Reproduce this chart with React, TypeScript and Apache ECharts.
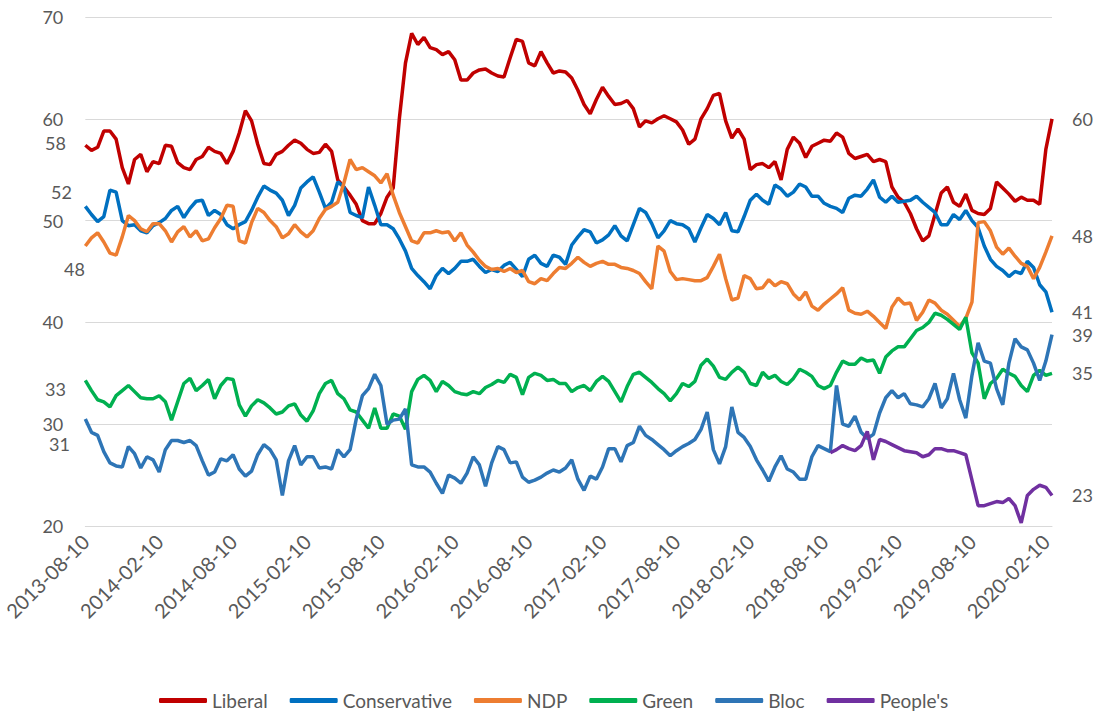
import React, { useEffect, useRef } from "react";
import * as echarts from "echarts";

// ---------- DATA ----------
const startYear = 2013;
const startMonth = 8; // August
const pointCount = 158; // semi-monthly points (10th and 25th)

function buildDates(): string[] {
  const out: string[] = [];
  for (let i = 0; i < pointCount; i++) {
    const m0 = startMonth - 1 + Math.floor(i / 2);
    const y = startYear + Math.floor(m0 / 12);
    const m = (m0 % 12) + 1;
    const d = i % 2 === 0 ? 10 : 25;
    out.push(`${y}-${String(m).padStart(2, "0")}-${d}`);
  }
  return out;
}
const categories = buildDates();

const seriesNames = ["Liberal", "Conservative", "NDP", "Green", "Bloc", "People's"];
const seriesColors = ["#C00000", "#0070C0", "#ED7D31", "#00B050", "#2E75B6", "#7030A0"];

const liberal = [
  57.4, 56.9, 57.2, 58.8, 58.8, 58.0, 55.2, 53.6, 56.0, 56.5,
  54.8, 55.8, 55.6, 57.4, 57.3, 55.7, 55.2, 55.0, 56.0, 56.3,
  57.2, 56.8, 56.6, 55.6, 56.8, 58.6, 60.8, 59.8, 57.5, 55.6,
  55.5, 56.5, 56.8, 57.4, 57.9, 57.6, 57.0, 56.6, 56.7, 57.5,
  56.8, 54.0, 53.3, 52.5, 51.6, 50.0, 49.7, 49.7, 50.7, 52.3,
  53.2, 60.0, 65.5, 68.4, 67.3, 68.0, 67.0, 66.8, 66.3, 66.6,
  65.8, 63.8, 63.8, 64.5, 64.8, 64.9, 64.5, 64.2, 64.1, 66.0,
  67.8, 67.6, 65.5, 65.2, 66.6, 65.5, 64.5, 64.7, 64.6, 64.0,
  62.8, 61.4, 60.5, 61.9, 63.1, 62.2, 61.4, 61.5, 61.8, 61.0,
  59.2, 59.8, 59.6, 60.0, 60.3, 60.0, 59.7, 58.9, 57.5, 58.0,
  60.0, 61.0, 62.3, 62.5, 59.8, 58.1, 59.0, 58.0, 55.0, 55.5,
  55.6, 55.2, 55.8, 54.0, 57.0, 58.2, 57.6, 56.2, 57.3, 57.6,
  57.9, 57.8, 58.6, 58.2, 56.6, 56.1, 56.3, 56.5, 55.8, 56.0,
  55.8, 53.3, 52.3, 51.8, 50.7, 49.2, 48.0, 48.5, 50.6, 52.7,
  53.3, 51.8, 51.4, 52.6, 51.0, 50.7, 50.6, 51.2, 53.8, 53.2,
  52.6, 51.9, 52.3, 52.0, 52.0, 51.6, 57.0, 60.0,
];

const conservative = [
  51.4, 50.6, 49.9, 50.4, 53.0, 52.8, 50.0, 49.5, 49.6, 49.0,
  48.8, 49.5, 49.8, 50.2, 51.0, 51.4, 50.3, 51.2, 51.9, 52.0,
  50.5, 51.0, 50.6, 49.6, 49.2, 49.6, 49.9, 51.0, 52.3, 53.4,
  53.0, 52.7, 52.0, 50.5, 51.5, 53.2, 53.8, 54.3, 52.8, 51.2,
  51.8, 53.8, 53.3, 50.8, 50.5, 50.3, 53.3, 51.5, 49.6, 49.6,
  49.2, 48.2, 47.0, 45.3, 44.6, 44.0, 43.3, 44.6, 45.3, 44.8,
  45.3, 46.0, 46.0, 46.2, 45.5, 44.9, 45.2, 45.0, 45.6, 45.9,
  45.2, 44.5, 46.2, 46.6, 45.8, 45.5, 46.6, 46.4, 45.7, 47.6,
  48.4, 49.1, 48.9, 47.8, 48.1, 48.6, 49.5, 48.5, 48.0, 49.6,
  51.2, 50.8, 49.7, 48.3, 49.0, 50.0, 49.7, 49.6, 49.2, 47.9,
  49.3, 50.6, 50.2, 49.6, 50.8, 49.0, 48.9, 50.4, 52.0, 52.6,
  52.0, 51.6, 53.5, 53.1, 52.4, 52.8, 53.6, 53.3, 52.4, 52.4,
  51.7, 51.4, 51.2, 50.8, 52.2, 52.5, 52.4, 53.1, 54.0, 52.3,
  51.8, 52.4, 51.8, 51.9, 52.0, 52.4, 51.8, 51.3, 50.8, 49.6,
  49.6, 50.6, 50.1, 51.0, 50.0, 49.3, 47.5, 46.2, 45.5, 45.1,
  44.5, 45.0, 44.8, 46.0, 45.4, 43.7, 43.0, 41.0,
];

const ndp = [
  47.5, 48.3, 48.8, 47.9, 46.8, 46.6, 48.4, 50.5, 50.0, 49.2,
  48.9, 49.7, 49.7, 49.0, 47.9, 48.9, 49.4, 48.4, 49.0, 48.0,
  48.2, 49.3, 50.2, 51.5, 51.4, 48.0, 47.8, 49.8, 51.2, 50.8,
  50.0, 49.4, 48.3, 48.7, 49.6, 48.9, 48.4, 49.0, 50.2, 51.1,
  51.4, 51.8, 53.7, 56.0, 55.0, 55.2, 54.8, 54.4, 53.7, 54.6,
  52.5, 50.8, 49.4, 48.0, 47.8, 48.8, 48.8, 49.0, 48.8, 48.9,
  48.0, 48.8, 47.6, 46.9, 46.1, 45.5, 45.2, 45.3, 45.0, 45.3,
  44.9, 45.1, 44.0, 43.8, 44.3, 44.1, 44.8, 45.4, 45.3, 45.8,
  46.4, 45.9, 45.5, 45.8, 46.0, 45.7, 45.7, 45.4, 45.3, 45.1,
  44.8, 44.0, 43.3, 47.5, 47.0, 45.0, 44.2, 44.3, 44.2, 44.1,
  44.1, 44.4, 45.5, 46.7, 44.3, 42.2, 42.4, 44.6, 44.3, 43.3,
  43.4, 44.2, 43.6, 44.0, 43.8, 42.8, 42.2, 43.0, 41.6, 41.2,
  41.8, 42.3, 42.8, 43.4, 41.2, 40.9, 40.8, 41.1, 40.6, 40.0,
  39.4, 41.5, 42.4, 41.8, 41.9, 40.2, 41.0, 42.2, 41.9, 41.2,
  40.8, 40.2, 39.6, 40.4, 42.0, 49.8, 49.9, 49.0, 47.4, 46.7,
  47.3, 46.5, 45.8, 45.5, 44.3, 45.4, 46.9, 48.5,
];

const green = [
  34.3, 33.3, 32.4, 32.2, 31.7, 32.8, 33.3, 33.8, 33.2, 32.6,
  32.5, 32.5, 32.8, 32.2, 30.4, 32.2, 34.0, 34.5, 33.3, 33.8,
  34.4, 32.5, 33.8, 34.5, 34.4, 31.9, 30.8, 31.8, 32.4, 32.1,
  31.6, 31.0, 31.2, 31.8, 32.0, 30.9, 30.3, 31.3, 33.0, 34.0,
  34.3, 33.0, 32.5, 31.4, 31.2, 30.4, 29.6, 31.6, 29.6, 29.6,
  31.0, 30.8, 29.5, 33.2, 34.4, 34.8, 34.3, 33.2, 34.2, 33.8,
  33.2, 33.0, 32.9, 33.2, 33.0, 33.6, 33.9, 34.3, 34.1, 34.9,
  34.6, 32.9, 34.6, 35.0, 34.8, 34.3, 34.4, 34.0, 34.0, 33.2,
  33.6, 33.8, 33.3, 34.2, 34.7, 34.2, 33.2, 32.2, 33.7, 34.9,
  35.1, 34.6, 34.1, 33.5, 33.0, 32.3, 33.0, 34.0, 33.7, 34.2,
  35.8, 36.4, 35.7, 34.6, 34.4, 35.1, 35.6, 35.1, 34.0, 33.8,
  35.1, 34.5, 34.8, 34.2, 33.9, 34.5, 35.4, 35.1, 34.7, 33.8,
  33.5, 33.8, 35.1, 36.2, 35.9, 35.9, 36.5, 36.2, 36.3, 35.0,
  36.6, 37.2, 37.6, 37.6, 38.4, 39.2, 39.5, 40.0, 40.9, 40.7,
  40.3, 39.8, 39.3, 40.5, 37.0, 36.0, 32.5, 34.0, 34.5, 35.4,
  35.0, 34.7, 33.8, 33.2, 34.8, 35.3, 34.8, 35.0,
];

const bloc = [
  30.5, 29.2, 28.9, 27.3, 26.2, 25.9, 25.8, 27.8, 27.1, 25.7,
  26.8, 26.5, 25.3, 27.5, 28.4, 28.4, 28.2, 28.4, 27.9, 26.4,
  25.0, 25.3, 26.6, 26.4, 27.0, 25.6, 24.9, 25.4, 27.0, 28.0,
  27.5, 26.5, 23.0, 26.4, 27.9, 26.0, 26.8, 26.8, 25.7, 25.8,
  25.6, 27.5, 26.8, 27.5, 30.5, 32.8, 33.5, 34.9, 33.8, 30.0,
  30.4, 30.5, 31.5, 26.0, 25.8, 25.8, 25.3, 24.2, 23.2, 25.0,
  24.7, 24.2, 25.2, 26.8, 26.0, 23.9, 26.2, 27.8, 27.5, 26.2,
  26.3, 24.8, 24.3, 24.5, 24.8, 25.2, 25.5, 25.3, 25.7, 26.5,
  24.6, 23.5, 24.9, 24.6, 25.8, 27.6, 27.6, 26.3, 27.9, 28.2,
  29.8, 28.9, 28.5, 28.0, 27.5, 26.9, 27.4, 27.8, 28.1, 28.5,
  29.5, 31.2, 27.5, 26.1, 27.8, 31.7, 29.2, 28.7, 27.8, 26.5,
  25.5, 24.4, 25.8, 26.9, 25.6, 25.3, 24.6, 24.6, 26.8, 27.9,
  27.6, 27.3, 33.8, 30.0, 29.8, 30.8, 29.2, 28.6, 29.0, 31.1,
  32.6, 33.3, 32.6, 33.0, 32.0, 31.9, 31.7, 32.5, 34.0, 31.6,
  32.5, 35.0, 32.4, 30.6, 34.8, 38.0, 36.2, 36.0, 33.5, 31.9,
  36.0, 38.4, 37.6, 37.3, 36.0, 34.3, 36.2, 38.8,
];

// People's Party: first poll at index 121
const peoplesStart = 121;
const peoplesValues = [
  27.2, 27.5, 27.9, 27.6, 27.4, 27.9, 29.3, 26.5, 28.5, 28.3,
  28.0, 27.7, 27.4, 27.3, 27.2, 26.8, 27.0, 27.6, 27.6, 27.4,
  27.4, 27.2, 27.0, 24.5, 22.0, 22.0, 22.2, 22.4, 22.3, 22.7,
  22.0, 20.3, 23.0, 23.6, 24.0, 23.8, 23.0,
];
const peoples: (number | null)[] = [
  ...new Array(peoplesStart).fill(null),
  ...peoplesValues,
];

const seriesData = [liberal, conservative, ndp, green, bloc, peoples];

// Labels at the line ends (right) and at the start (left)
const endLabels = ["60", "41", "48", "35", "39", "23"];
const startLabels = ["58", "52", "48", "33", "31"];
const startLabelValues = [57.6, 52.8, 45.2, 33.5, 28.1];
const startLabelRight = [66, 72, 85, 66, 70];

const FONT = "Lato, 'Open Sans', sans-serif";
const TEXT = "#595959";

export default function App() {
  const ref = useRef<HTMLDivElement>(null);

  useEffect(() => {
    document.body.style.margin = "0";
    if (!ref.current) return;
    const chart = echarts.init(ref.current, null, { renderer: "svg" });

    const series = seriesNames.map((name, k) => ({
      name,
      type: "line",
      data: seriesData[k],
      showSymbol: false,
      symbol: "none",
      connectNulls: false,
      lineStyle: { width: 3.5, color: seriesColors[k] },
      itemStyle: { color: seriesColors[k] },
      endLabel: {
        show: true,
        formatter: () => endLabels[k],
        distance: 20,
        color: TEXT,
        fontSize: 18,
        fontFamily: FONT,
      },
      emphasis: { disabled: true },
    }));

    chart.setOption({
      animation: false,
      backgroundColor: "#ffffff",
      grid: { left: 85, right: 58, top: 17, bottom: 185, containLabel: false },
      legend: {
        data: seriesNames,
        left: 154,
        top: 686,
        icon: "roundRect",
        itemWidth: 48,
        itemHeight: 5,
        itemGap: 22,
        textStyle: { color: TEXT, fontSize: 19, fontFamily: FONT },
      },
      xAxis: {
        type: "category",
        data: categories,
        boundaryGap: false,
        axisLine: { show: true, lineStyle: { color: "#D9D9D9", width: 1 } },
        axisTick: { show: false },
        axisLabel: {
          interval: 11,
          rotate: 45,
          color: TEXT,
          fontSize: 20,
          fontFamily: FONT,
          margin: 12,
        },
        splitLine: { show: false },
      },
      yAxis: {
        type: "value",
        min: 20,
        max: 70,
        interval: 10,
        axisLine: { show: false },
        axisTick: { show: false },
        axisLabel: { color: TEXT, fontSize: 18, fontFamily: FONT, margin: 22 },
        splitLine: { lineStyle: { color: "#D9D9D9", width: 1 } },
      },
      series,
    });

    const graphics = startLabels.map((t, k) => {
      const y = chart.convertToPixel({ yAxisIndex: 0 }, startLabelValues[k]) as number;
      return {
        type: "text",
        x: startLabelRight[k],
        y,
        style: {
          text: t,
          fill: TEXT,
          fontSize: 18,
          fontFamily: FONT,
          textAlign: "right",
          textVerticalAlign: "middle",
        },
      };
    });
    chart.setOption({ graphic: graphics });

    return () => chart.dispose();
  }, []);

  return <div ref={ref} style={{ width: 1110, height: 711 }} />;
}
